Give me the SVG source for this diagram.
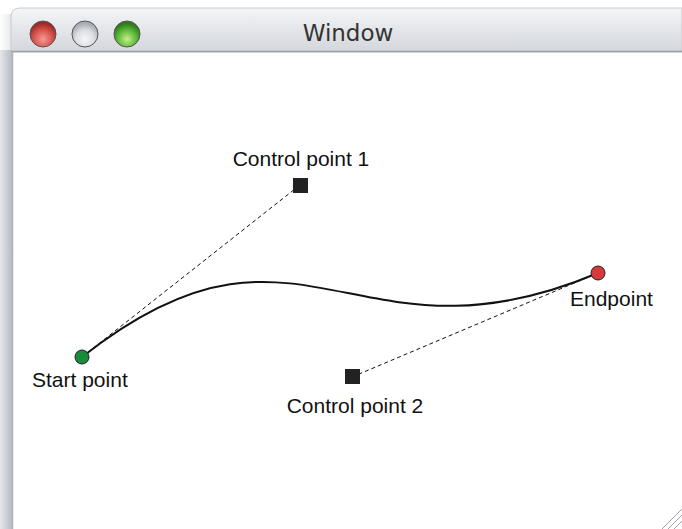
<svg xmlns="http://www.w3.org/2000/svg" width="682" height="529" viewBox="0 0 682 529">
<defs>
<linearGradient id="title" x1="0" y1="0" x2="0" y2="1">
<stop offset="0" stop-color="#f4f5f7"/>
<stop offset="1" stop-color="#d3d6db"/>
</linearGradient>
<linearGradient id="side" x1="0" y1="0" x2="1" y2="0">
<stop offset="0" stop-color="#e4e6e9"/>
<stop offset="0.8" stop-color="#bcc2c9"/>
<stop offset="1" stop-color="#a9b0b8"/>
</linearGradient>
<linearGradient id="shadow" x1="0" y1="0" x2="1" y2="0">
<stop offset="0" stop-color="#ffffff"/>
<stop offset="1" stop-color="#e6e8eb"/>
</linearGradient>
<radialGradient id="red" cx="0.5" cy="0.7" r="0.6">
<stop offset="0" stop-color="#f49a94"/>
<stop offset="0.6" stop-color="#d9534d"/>
<stop offset="1" stop-color="#9e2a27"/>
</radialGradient>
<radialGradient id="gray" cx="0.5" cy="0.7" r="0.6">
<stop offset="0" stop-color="#f6f7f9"/>
<stop offset="0.6" stop-color="#dadde2"/>
<stop offset="1" stop-color="#a9adb4"/>
</radialGradient>
<radialGradient id="green" cx="0.5" cy="0.7" r="0.6">
<stop offset="0" stop-color="#c6ef8a"/>
<stop offset="0.6" stop-color="#5cb83a"/>
<stop offset="1" stop-color="#2e7a1c"/>
</radialGradient>
<style>
.lbl{font-family:"Liberation Sans",Arial,sans-serif;font-size:21px;fill:#111;}
.ttl{font-family:"DejaVu Sans","Liberation Sans",sans-serif;font-size:23px;fill:#333;}
.dash{fill:none;stroke:#111;stroke-width:1;stroke-dasharray:4 3;}
.curve{fill:none;stroke:#111;stroke-width:2;}
.cp{fill:#222;}
.light{stroke:#555;stroke-width:1;}
</style>
</defs>
<g id="window">
<rect x="0" y="0" width="682" height="529" fill="#ffffff"/>
<rect x="0" y="14" width="12" height="40" fill="url(#shadow)"/>
<rect x="0" y="50" width="13" height="479" fill="url(#side)"/>
<line x1="13.5" y1="50" x2="13.5" y2="529" stroke="#e8eaed" stroke-width="1"/>
<path d="M11,52 V17 Q11,8 20,8 H682 V52 Z" fill="url(#title)" stroke="#c8cbd0" stroke-width="1"/>
<line x1="11" y1="51.5" x2="682" y2="51.5" stroke="#9a9ea5" stroke-width="1.5"/>
<circle cx="43" cy="34" r="13" fill="url(#red)" class="light"/>
<circle cx="85" cy="34" r="13" fill="url(#gray)" class="light"/>
<circle cx="127" cy="34" r="13" fill="url(#green)" class="light"/>
<text class="ttl" x="348" y="41" text-anchor="middle">Window</text>
<g stroke="#a0a4aa" stroke-width="1">
<line x1="662" y1="529" x2="682" y2="509"/>
<line x1="668" y1="529" x2="682" y2="515"/>
<line x1="674" y1="529" x2="682" y2="521"/>
</g>
</g>
<g id="connectors">
<line class="dash" x1="82" y1="357" x2="300" y2="185"/>
<line class="dash" x1="352" y1="377" x2="598" y2="273"/>
<path id="curve" class="curve" d="M82,357 C300,185 352,377 598,273"/>
</g>
<g id="start">
<circle cx="82" cy="357" r="7" fill="#1a8a3c" stroke="#222" stroke-width="1"/>
<text class="lbl" x="32" y="387">Start point</text>
</g>
<g id="end">
<circle cx="598" cy="273" r="7" fill="#d63a3a" stroke="#222" stroke-width="1"/>
<text class="lbl" x="570" y="306">Endpoint</text>
</g>
<g id="cp1">
<rect class="cp" x="293" y="178" width="15" height="15"/>
<text class="lbl" x="301" y="166" text-anchor="middle">Control point 1</text>
</g>
<g id="cp2">
<rect class="cp" x="345" y="369" width="15" height="15"/>
<text class="lbl" x="355" y="413" text-anchor="middle">Control point 2</text>
</g>
</svg>
